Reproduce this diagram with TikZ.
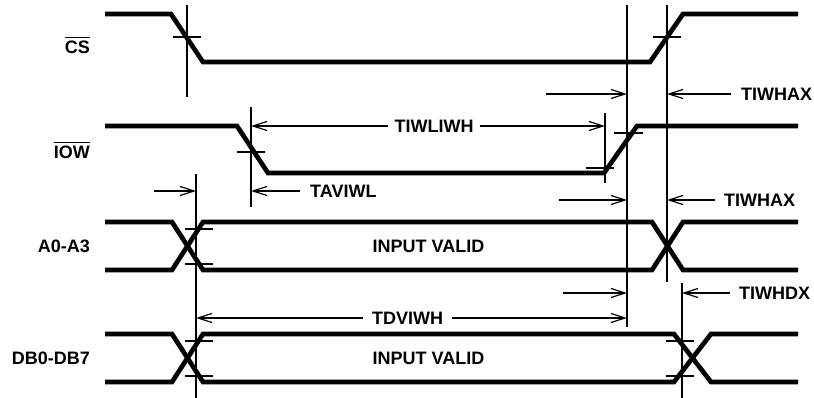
\documentclass[tikz,border=0pt]{standalone}
\usepackage{fontspec}
\setmainfont{Liberation Sans}
\usetikzlibrary{arrows.meta}
\begin{document}
\begin{tikzpicture}[x=1pt,y=-1pt,
  sigline/.style={line width=4.7pt, line join=miter},
  guide/.style={line width=1.3pt},
  tickmark/.style={line width=1.3pt},
  barline/.style={line width=1.4pt},
  dimarrow/.style={line width=1.3pt, -{Straight Barb[length=14pt,width=9pt,line width=1.2pt]}},
  lbl/.style={font=\fontsize{18}{20}\selectfont\bfseries, inner ysep=0pt, text depth=0pt}]
\useasboundingbox (0,0) rectangle (814,398);
% signal names
\node[lbl, anchor=base east, inner xsep=0pt] (cs) at (90,54) {CS};
\node[lbl, anchor=base east, inner xsep=0pt] (iow) at (90,159) {IOW};
\node[lbl, anchor=base east, inner xsep=0pt] (addr) at (90,252) {A0-A3};
\node[lbl, anchor=base east, inner xsep=0pt] (data) at (90,364) {DB0-DB7};
\draw[barline] ([yshift=4pt]cs.north west) -- ([yshift=4pt]cs.north east);
\draw[barline] ([yshift=4pt]iow.north west) -- ([yshift=4pt]iow.north east);
% waveforms
\draw[sigline] (105,14) -- (171,14) -- (203,62) -- (650,62) -- (683,14) -- (798,14);
\draw[sigline] (105,126) -- (237,126) -- (268,173) -- (604,173) -- (637,126) -- (798,126);
\draw[sigline] (105,222) -- (172,222) -- (203,270) -- (652,270) -- (683,222) -- (798,222);
\draw[sigline] (105,270) -- (172,270) -- (203,222) -- (652,222) -- (683,270) -- (798,270);
\draw[sigline] (105,334) -- (172,334) -- (203,382) -- (674,382) -- (711,334) -- (798,334);
\draw[sigline] (105,382) -- (172,382) -- (203,334) -- (674,334) -- (711,382) -- (798,382);
\node[lbl, inner xsep=0pt] (valid1) at (428.5,246) {INPUT VALID};
\node[lbl, inner xsep=0pt] (valid2) at (428.5,358) {INPUT VALID};
% reference lines
\draw[guide] (187,5) -- (187,97);
\draw[guide] (251,107) -- (251,207);
\draw[guide] (196,174) -- (196,398);
\draw[guide] (605,113) -- (605,183);
\draw[guide] (627,5) -- (627,327);
\draw[guide] (667,5) -- (667,282);
\draw[guide] (682,283) -- (682,398);
% ticks
\draw[tickmark] (173,37) -- (201,37);
\draw[tickmark] (653,37) -- (681,37);
\draw[tickmark] (237,152) -- (265,152);
\draw[tickmark] (586,168) -- (614,168);
\draw[tickmark] (614,133) -- (643,133);
\draw[tickmark] (185,229) -- (213,229);
\draw[tickmark] (185,264) -- (213,264);
\draw[tickmark] (185,341) -- (213,341);
\draw[tickmark] (185,376) -- (213,376);
\draw[tickmark] (666,341) -- (694,341);
\draw[tickmark] (666,376) -- (694,376);
% arrow end points
\coordinate (a1s) at (546,94);   \coordinate (a1e) at (627,94);
\coordinate (b1e) at (667,94);
\coordinate (liwl) at (251,126); \coordinate (liwr) at (605,126);
\coordinate (avs) at (154,191);  \coordinate (ave) at (196,191);
\coordinate (avl) at (251,191);
\coordinate (a2s) at (559,200);  \coordinate (a2e) at (627,200);
\coordinate (b2e) at (667,200);
\coordinate (dxs) at (563,293);  \coordinate (dxe) at (627,293);
\coordinate (hdx) at (682,293);
\coordinate (dvl) at (196,318);  \coordinate (dvr) at (627,318);
% timing labels
\node[lbl, anchor=west, inner xsep=10pt] (tiwhax1) at (731,94) {TIWHAX};
\node[lbl, inner xsep=6pt] (tiwliwh) at (434,126) {TIWLIWH};
\node[lbl, anchor=west, inner xsep=10pt] (taviwl) at (300,191) {TAVIWL};
\node[lbl, anchor=west, inner xsep=9pt] (tiwhax2) at (715,200) {TIWHAX};
\node[lbl, anchor=west, inner xsep=9pt] (tiwhdx) at (730,293) {TIWHDX};
\node[lbl, inner xsep=9pt] (tdviwh) at (407.5,318) {TDVIWH};
% arrows
\draw[dimarrow] (a1s) -- (a1e);
\draw[dimarrow] (tiwhax1.west) -- (b1e);
\draw[dimarrow] (tiwliwh.west) -- (liwl);
\draw[dimarrow] (tiwliwh.east) -- (liwr);
\draw[dimarrow] (avs) -- (ave);
\draw[dimarrow] (taviwl.west) -- (avl);
\draw[dimarrow] (a2s) -- (a2e);
\draw[dimarrow] (tiwhax2.west) -- (b2e);
\draw[dimarrow] (dxs) -- (dxe);
\draw[dimarrow] (tiwhdx.west) -- (hdx);
\draw[dimarrow] (tdviwh.west) -- (dvl);
\draw[dimarrow] (tdviwh.east) -- (dvr);
\end{tikzpicture}
\end{document}
